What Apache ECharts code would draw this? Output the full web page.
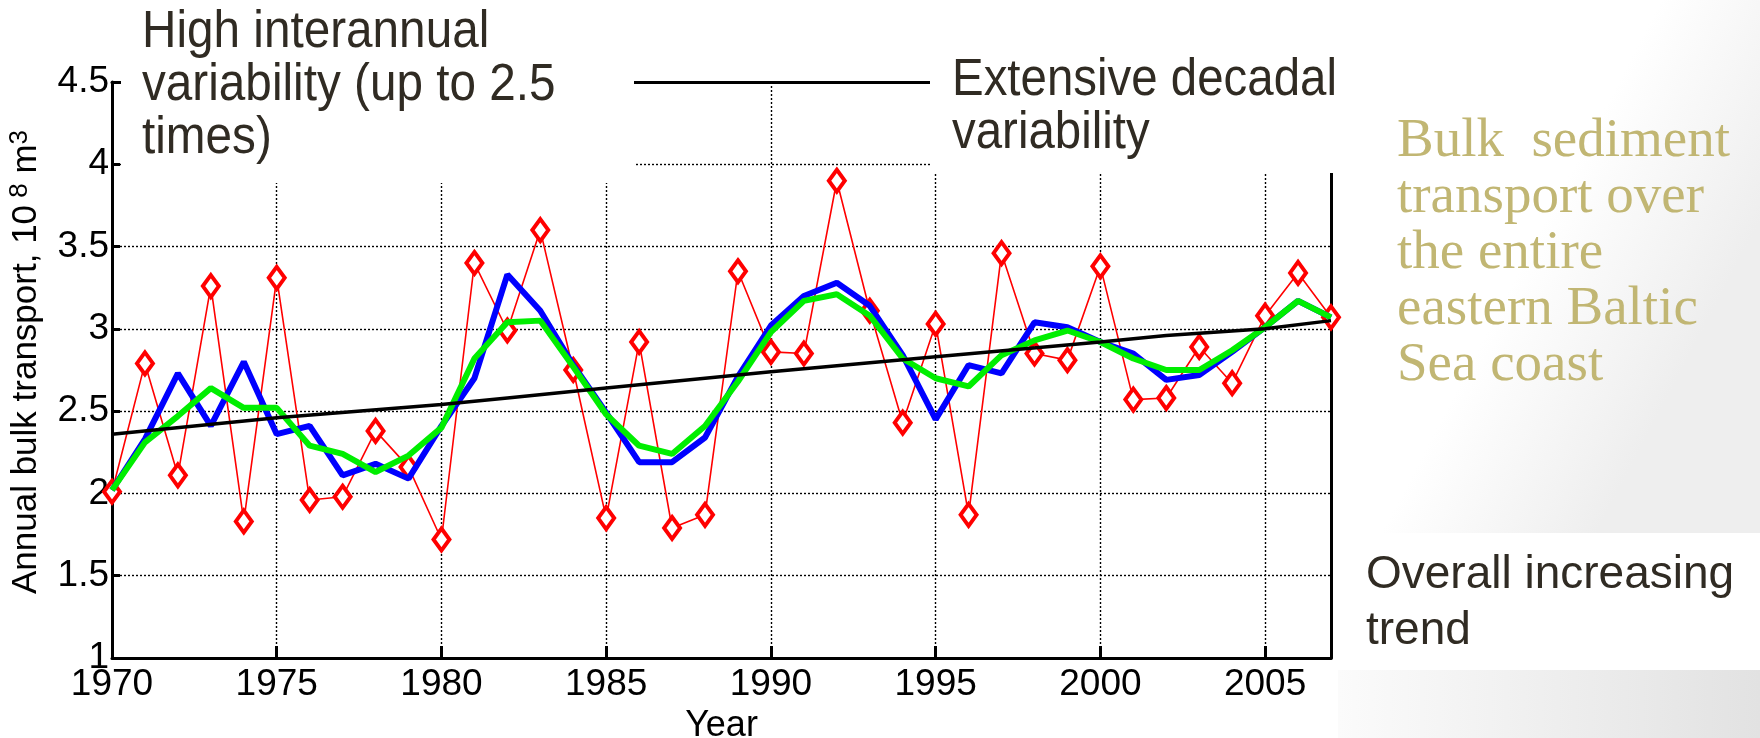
<!DOCTYPE html>
<html>
<head>
<meta charset="utf-8">
<title>Annual bulk transport</title>
<script src="https://cdn.jsdelivr.net/npm/echarts/dist/echarts.min.js"></script>
<style>
	body { margin: 0; background: #fff; }
	#myChart { width: 1760px; height: 738px; }
</style>
</head>
<body>
<div id="myChart"></div>
<script>
// years on the x axis
var years = [ 1970, 1971, 1972, 1973, 1974, 1975, 1976, 1977, 1978, 1979,
		1980, 1981, 1982, 1983, 1984, 1985, 1986, 1987, 1988, 1989,
		1990, 1991, 1992, 1993, 1994, 1995, 1996, 1997, 1998, 1999,
		2000, 2001, 2002, 2003, 2004, 2005, 2006, 2007 ];
// red diamonds, annual values
var annual = [ 2.01, 2.79, 2.11, 3.26, 1.83, 3.31, 1.96, 1.98, 2.38, 2.16,
		1.72, 3.40, 2.99, 3.60, 2.75, 1.85, 2.92, 1.79, 1.87, 3.35,
		2.86, 2.85, 3.90, 3.11, 2.43, 3.03, 1.87, 3.46, 2.85, 2.81,
		3.38, 2.57, 2.58, 2.89, 2.67, 3.08, 3.34, 3.07 ];
// blue curve
var smoothBlue = [ 2.02, 2.33, 2.73, 2.41, 2.80, 2.36, 2.41, 2.11, 2.18, 2.09,
		2.41, 2.70, 3.33, 3.11, 2.78, 2.49, 2.19, 2.19, 2.34, 2.71,
		3.02, 3.20, 3.28, 3.14, 2.84, 2.45, 2.78, 2.73, 3.04, 3.01,
		2.92, 2.85, 2.69, 2.72, 2.86, 3.01, 3.17, 3.07 ];
// green curve
var smoothGreen = [ 2.02, 2.31, 2.47, 2.64, 2.52, 2.52, 2.29, 2.24, 2.13, 2.23,
		2.40, 2.82, 3.04, 3.05, 2.77, 2.48, 2.29, 2.24, 2.41, 2.68,
		2.98, 3.17, 3.21, 3.08, 2.82, 2.70, 2.65, 2.84, 2.93, 2.99,
		2.92, 2.82, 2.75, 2.75, 2.87, 3.01, 3.17, 3.07 ];
// black trend line
var trendYears = [ 1970, 1975, 1980, 1982, 1985, 1990, 1995, 2000, 2002, 2005, 2007 ];
var trendValues = [ 2.36, 2.46, 2.54, 2.58, 2.64, 2.74, 2.83, 2.92, 2.96, 3.00, 3.05 ];

var leftNote = [ 'High interannual', 'variability (up to 2.5', 'times)' ];
var midNote = [ 'Extensive decadal', 'variability' ];
var bulkNote = [ 'Bulk  sediment', 'transport over', 'the entire', 'eastern Baltic', 'Sea coast' ];
var trendNote = [ 'Overall increasing', 'trend' ];

function pairs(xs, ys) {
	var out = [];
	for (var i = 0; i < xs.length; i++) {
		out.push([ xs[i], ys[i] ]);
	}
	return out;
}

// one graphic text per line, y is the line middle
function noteLines(lines, x, y0, step, font, color, sx) {
	var out = [];
	for (var i = 0; i < lines.length; i++) {
		out.push({
			type : 'text',
			z : 60,
			silent : true,
			x : x,
			y : y0 + i * step,
			scaleX : sx || 1,
			style : {
				text : lines[i],
				font : font,
				fill : color,
				verticalAlign : 'middle'
			}
		});
	}
	return out;
}

var tickFont = '"Liberation Sans Narrow", "Arial Narrow", "Liberation Sans", Arial, sans-serif';
var gridDots = { color : '#000', type : [ 2, 2 ], width : 1.4 };
var myChart = echarts.init(document.getElementById('myChart'));

var graphics = [ {
	// grey shading of the slide on the right
	type : 'rect',
	z : -2,
	silent : true,
	shape : { x : 1338, y : 0, width : 422, height : 738 },
	style : {
		fill : new echarts.graphic.LinearGradient(0, 0, 1, 0.3, [
			{ offset : 0, color : '#ffffff' },
			{ offset : 0.6, color : '#ffffff' },
			{ offset : 1, color : '#eeeeee' } ])
	}
}, {
	type : 'rect',
	z : -2,
	silent : true,
	shape : { x : 1338, y : 670, width : 422, height : 68 },
	style : {
		fill : new echarts.graphic.LinearGradient(0, 0, 1, 0, [
			{ offset : 0, color : '#fbfbfb' },
			{ offset : 1, color : '#e2e2e2' } ])
	}
}, {
	type : 'rect',
	z : -1,
	silent : true,
	shape : { x : 1338, y : 533, width : 422, height : 137 },
	style : { fill : '#ffffff' }
}, {
	// white boxes behind the two top notes
	type : 'rect',
	z : 50,
	silent : true,
	shape : { x : 121, y : 0, width : 513, height : 183 },
	style : { fill : '#ffffff' }
}, {
	type : 'rect',
	z : 50,
	silent : true,
	shape : { x : 930, y : 0, width : 408, height : 173 },
	style : { fill : '#ffffff' }
} ];
graphics = graphics
		.concat(noteLines(leftNote, 142, 33, 53, '51px "Liberation Sans", Arial', '#302b23', 0.935))
		.concat(noteLines(midNote, 952, 81, 53, '51px "Liberation Sans", Arial', '#302b23', 0.93))
		.concat(noteLines(bulkNote, 1397, 142, 56, '55px "Liberation Serif", serif', '#c1b673'))
		.concat(noteLines(trendNote, 1366, 575, 56, '46px "Liberation Sans", Arial', '#302b23'));

var option = {
	animation : false,
	backgroundColor : '#ffffff',
	grid : {
		left : 112,
		right : 429,
		top : 82,
		bottom : 80,
		containLabel : false,
		outerBoundsMode : 'none'
	},
	xAxis : [ {
		type : 'value',
		position : 'bottom',
		min : 1970,
		max : 2007,
		interval : 5,
		name : 'Year',
		nameLocation : 'middle',
		nameGap : 48,
		nameTextStyle : {
			color : '#000',
			fontSize : 36,
			fontFamily : tickFont
		},
		axisLine : {
			show : true,
			lineStyle : { color : '#000', width : 3 }
		},
		axisTick : {
			show : true,
			inside : true,
			length : 12,
			lineStyle : { color : '#000', width : 3 }
		},
		axisLabel : {
			color : '#000',
			fontSize : 37,
			fontFamily : tickFont,
			margin : 8,
			showMaxLabel : false,
			formatter : function(v) {
				return String(v);
			}
		},
		splitLine : {
			show : true,
			lineStyle : gridDots
		}
	}, {
		type : 'value',
		position : 'top',
		min : 1970,
		max : 2007,
		axisLine : {
			show : true,
			lineStyle : { color : '#000', width : 3 }
		},
		axisTick : { show : false },
		axisLabel : { show : false },
		splitLine : { show : false }
	} ],
	yAxis : [ {
		type : 'value',
		position : 'left',
		min : 1,
		max : 4.5,
		interval : 0.5,
		name : 'Annual bulk transport, 10{s| 8} m{s|3}',
		nameLocation : 'middle',
		nameRotate : 90,
		nameGap : 49,
		nameTextStyle : {
			color : '#000',
			fontSize : 35,
			fontFamily : tickFont,
			lineHeight : 40,
			padding : [ 0, 0, 0, 16 ],
			rich : {
				s : {
					color : '#000',
					fontSize : 26,
					fontFamily : tickFont,
					lineHeight : 26,
					verticalAlign : 'top'
				}
			}
		},
		axisLine : {
			show : true,
			lineStyle : { color : '#000', width : 3 }
		},
		axisTick : {
			show : true,
			inside : true,
			length : 8,
			lineStyle : { color : '#000', width : 3 }
		},
		axisLabel : {
			color : '#000',
			fontSize : 37,
			fontFamily : tickFont,
			margin : 3
		},
		splitLine : {
			show : true,
			lineStyle : gridDots
		}
	}, {
		type : 'value',
		position : 'right',
		min : 1,
		max : 4.5,
		axisLine : {
			show : true,
			lineStyle : { color : '#000', width : 3 }
		},
		axisTick : { show : false },
		axisLabel : { show : false },
		splitLine : { show : false }
	} ],
	series : [ {
		name : 'annual',
		type : 'line',
		z : 2,
		data : pairs(years, annual),
		symbol : 'diamond',
		symbolSize : [ 16, 22 ],
		itemStyle : {
			color : '#ffffff',
			borderColor : '#ff0000',
			borderWidth : 4
		},
		lineStyle : { color : '#ff0000', width : 1.6 }
	}, {
		name : 'blue',
		type : 'line',
		z : 3,
		data : pairs(years, smoothBlue),
		symbol : 'none',
		lineStyle : { color : '#0000ff', width : 6 }
	}, {
		name : 'green',
		type : 'line',
		z : 4,
		data : pairs(years, smoothGreen),
		symbol : 'none',
		lineStyle : { color : '#00ee00', width : 6 }
	}, {
		name : 'trend',
		type : 'line',
		z : 5,
		data : pairs(trendYears, trendValues),
		symbol : 'none',
		lineStyle : { color : '#000000', width : 3.5 }
	} ],
	graphic : graphics
};
myChart.setOption(option);
</script>
</body>
</html>
